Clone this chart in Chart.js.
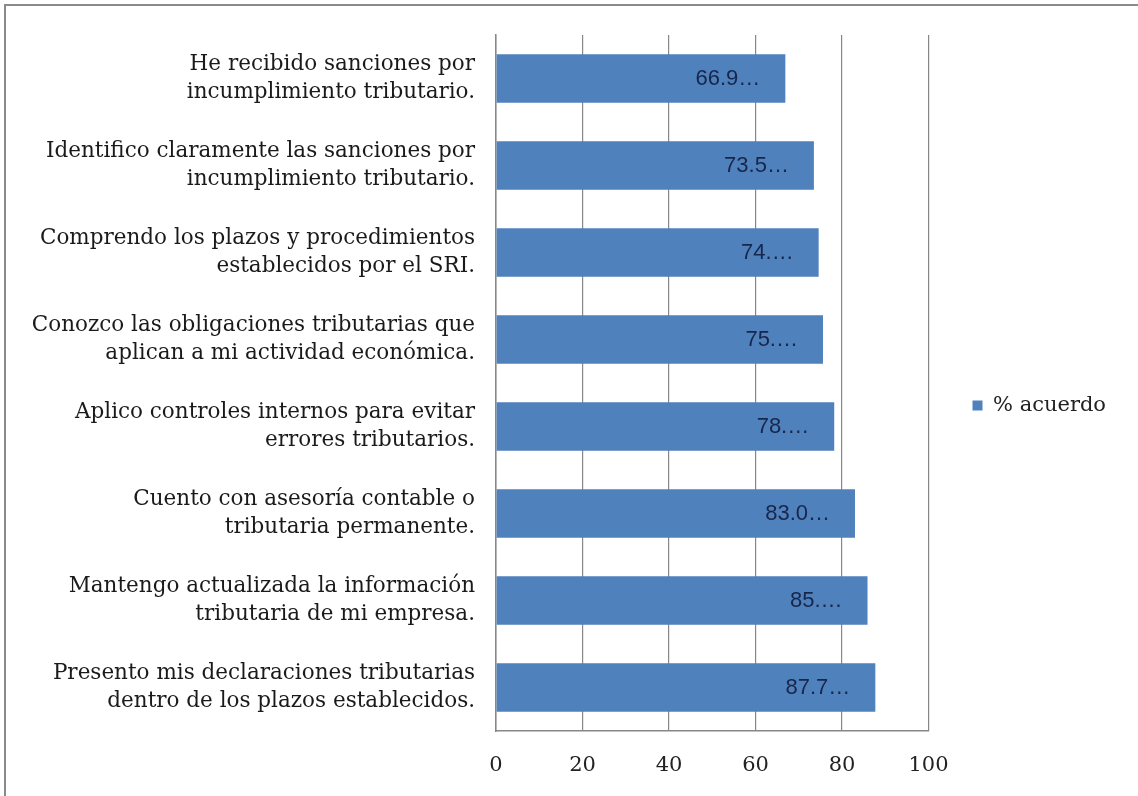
<!DOCTYPE html>
<html>
<head>
<meta charset="utf-8">
<script src="https://cdn.jsdelivr.net/npm/chart.js@4/dist/chart.umd.min.js"></script>
<style>
    html, body { margin: 0; padding: 0; background: #fff; }
    #chart-div { position: absolute; left: 0; top: 0; width: 1138px; height: 796px; }
    #frame { position: absolute; left: 4px; top: 4px; right: 0; bottom: 0; border-left: 2px solid #8a8a8a; border-top: 2px solid #8a8a8a; pointer-events: none; }
</style>
</head>
<body>
<div id="chart-div"><canvas id="acuerdo-chart" width="1138" height="796"></canvas></div>
<div id="frame"></div>
<script>
const categories = [
    ['He recibido sanciones por', 'incumplimiento tributario.'],
    ['Identifico claramente las sanciones por', 'incumplimiento tributario.'],
    ['Comprendo los plazos y procedimientos', 'establecidos por el SRI.'],
    ['Conozco las obligaciones tributarias que', 'aplican a mi actividad económica.'],
    ['Aplico controles internos para evitar', 'errores tributarios.'],
    ['Cuento con asesoría contable o', 'tributaria permanente.'],
    ['Mantengo actualizada la información', 'tributaria de mi empresa.'],
    ['Presento mis declaraciones tributarias', 'dentro de los plazos establecidos.']
];
const acuerdo = [66.9, 73.5, 74.6, 75.6, 78.2, 83.0, 85.9, 87.7];
// labels come out clipped in the bars, keep them as they show
const valueLabels = ['66.9…', '73.5…', '74.…', '75.…', '78.…', '83.0…', '85.…', '87.7…'];
const xTicks = [0, 20, 40, 60, 80, 100];

const serif = 'DejaVu Serif';
const gridGrey = '#878787';

const barLabels = {
    id: 'barLabels',
    afterDatasetsDraw(chart) {
        const ctx = chart.ctx;
        const meta = chart.getDatasetMeta(0);
        ctx.save();
        ctx.font = '22px "Liberation Sans"';
        ctx.fillStyle = '#18264a';
        ctx.textAlign = 'right';
        ctx.textBaseline = 'middle';
        meta.data.forEach((bar, i) => {
            ctx.fillText(valueLabels[i], bar.x - 25, bar.y);
        });
        ctx.restore();
    }
};

const ctx = document.getElementById('acuerdo-chart').getContext('2d');
window.acuerdoChart = new Chart(ctx, {
    type: 'bar',
    data: {
        labels: categories,
        datasets: [{
            label: '% acuerdo',
            data: acuerdo,
            backgroundColor: '#4f81bd',
            borderWidth: 0,
            barPercentage: 0.7,
            categoryPercentage: 0.8
        }]
    },
    options: {
        indexAxis: 'y',
        responsive: false,
        animation: false,
        layout: { padding: { top: 35, right: 22, bottom: 20, left: 0 } },
        plugins: {
            tooltip: { enabled: false },
            legend: {
                position: 'right',
                labels: {
                    boxWidth: 10,
                    boxHeight: 10,
                    padding: 44,
                    color: '#222',
                    font: { family: serif, size: 21 }
                }
            }
        },
        scales: {
            x: {
                min: 0,
                max: 100,
                afterBuildTicks: (scale) => { scale.ticks = xTicks.map((v) => ({ value: v })); },
                afterFit: (scale) => { scale.height = 45; },
                grid: { color: gridGrey, drawTicks: false, lineWidth: 1.2 },
                border: { color: gridGrey, width: 1.5 },
                ticks: { padding: 22, color: '#222', font: { family: serif, size: 21 } }
            },
            y: {
                afterFit: (scale) => {
                    // two-line labels would otherwise push the plot down
                    scale.width = 496;
                    scale.paddingTop = 0;
                    scale.paddingBottom = 0;
                },
                grid: { display: false, drawTicks: false },
                border: { color: gridGrey, width: 1.5 },
                ticks: {
                    autoSkip: false,
                    padding: 21,
                    color: '#1a1a1a',
                    font: { family: serif, size: 21.5, lineHeight: 1.28 }
                }
            }
        }
    },
    plugins: [barLabels]
});
</script>
</body>
</html>
